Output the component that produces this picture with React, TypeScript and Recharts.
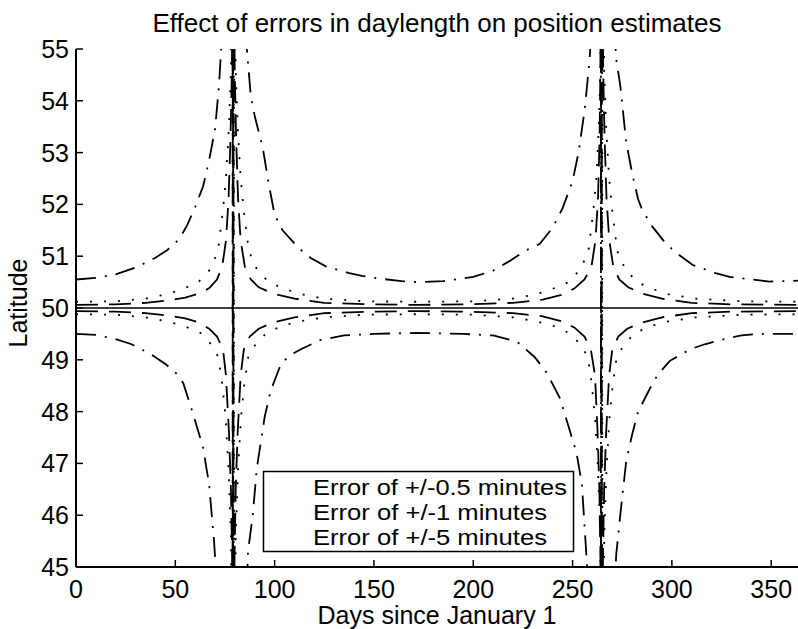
import React from 'react';
import { LineChart, Line, XAxis, YAxis, ReferenceLine } from 'recharts';

// ---- tick labels / categories ----
const X_TICKS = [0, 50, 100, 150, 200, 250, 300, 350];
const Y_TICKS = [45, 46, 47, 48, 49, 50, 51, 52, 53, 54, 55];
const TRUE_LATITUDE = 50;
const LEGEND_LABELS = ['Error of +/-0.5 minutes', 'Error of +/-1 minutes', 'Error of +/-5 minutes'];
const TITLE = 'Effect of errors in daylength on position estimates';
const X_LABEL = 'Days since January 1';
const Y_LABEL = 'Latitude';

type Pt = [number, number]; // [day, latitude]

// ---- +/-0.5 minutes (dashed) ----
const halfUpperSpring: Pt[] = [[0,50.06],[20,50.07],[35,50.1],[45,50.14],[55,50.2],[62,50.28],[67,50.38],[71,50.55],[73.6,50.8],[75.5,51.3],[76.8,52.1],[77.8,53.3],[78.5,54.6],[79.0,58]];
const halfLowerSpring: Pt[] = [[0,49.94],[20,49.93],[35,49.9],[45,49.86],[55,49.8],[62,49.72],[67,49.6],[71,49.45],[74,49.2],[75.5,48.7],[77,47.6],[78,46.5],[78.6,45.2],[79.0,42]];
const halfUpperSummer: Pt[] = [[79.4,58],[79.9,54.6],[80.6,53.3],[81.6,52.1],[82.9,51.3],[85,50.8],[88,50.55],[92,50.4],[99,50.28],[110,50.18],[125,50.1],[150,50.07],[172,50.06],[195,50.07],[220,50.1],[235,50.16],[245,50.26],[251,50.38],[256,50.55],[259.5,50.8],[261.5,51.3],[262.8,52.1],[263.6,53.3],[264.0,54.6],[264.4,58]];
const halfLowerSummer: Pt[] = [[79.4,42],[79.8,45.2],[80.4,46.5],[81.4,47.6],[82.9,48.7],[84.5,49.2],[87.5,49.45],[92,49.6],[99,49.72],[110,49.82],[125,49.9],[150,49.93],[172,49.94],[195,49.93],[220,49.9],[235,49.84],[245,49.74],[251,49.62],[256,49.45],[259.2,49.2],[261.3,48.7],[262.6,47.6],[263.5,46.5],[264.0,45.2],[264.4,42]];
const halfUpperAutumn: Pt[] = [[264.8,58],[265.4,54.6],[266.1,53.3],[267.1,52.1],[268.5,51.3],[270.5,50.8],[273.5,50.55],[278,50.4],[285,50.28],[295,50.18],[310,50.1],[330,50.07],[365,50.06]];
const halfLowerAutumn: Pt[] = [[264.8,42],[265.3,45.2],[265.9,46.5],[266.9,47.6],[268.4,48.7],[270,49.2],[273,49.45],[277.5,49.6],[285,49.72],[295,49.82],[310,49.9],[330,49.93],[365,49.94]];

// ---- +/-1 minutes (dotted) ----
const oneUpperSpring: Pt[] = [[0,50.12],[20,50.13],[35,50.18],[46,50.27],[54,50.37],[61.6,50.5],[67.7,50.75],[71.5,51.1],[74,51.9],[75.5,52.5],[77,53.5],[78,54.6],[79.3,60]];
const oneLowerSpring: Pt[] = [[0,49.88],[20,49.87],[35,49.82],[46,49.74],[54,49.66],[62.6,49.52],[68,49.3],[71.7,49.05],[73.6,48.55],[75.3,47.9],[76.8,46.9],[78,45.6],[79.3,40]];
const oneUpperSummer: Pt[] = [[79.7,60],[80.4,54.6],[81.4,53.5],[82.9,52.5],[84.4,51.9],[87,51.1],[91,50.75],[97,50.5],[105,50.37],[113,50.27],[125,50.18],[145,50.13],[172,50.12],[200,50.13],[220,50.18],[232,50.27],[240,50.37],[248,50.5],[254,50.75],[258,51.1],[260.5,51.9],[262,52.5],[263.2,53.5],[264,54.6],[264.7,60]];
const oneLowerSummer: Pt[] = [[79.7,40],[80.4,45.6],[81.6,46.9],[83.1,47.9],[84.8,48.55],[86.7,49.05],[90.4,49.3],[96,49.52],[104,49.66],[112,49.74],[125,49.82],[145,49.87],[172,49.88],[200,49.87],[220,49.82],[232,49.74],[240,49.66],[248,49.52],[254,49.3],[257.7,49.05],[259.6,48.55],[261.3,47.9],[262.8,46.9],[264,45.6],[264.7,40]];
const oneUpperAutumn: Pt[] = [[265.1,60],[265.9,54.6],[266.9,53.5],[268.4,52.5],[269.9,51.9],[272.5,51.1],[276.5,50.75],[282.5,50.5],[290,50.37],[298,50.27],[312,50.18],[335,50.13],[365,50.12]];
const oneLowerAutumn: Pt[] = [[265.1,40],[265.9,45.6],[267.1,46.9],[268.6,47.9],[270.3,48.55],[272.2,49.05],[276,49.3],[281.5,49.52],[290,49.66],[298,49.74],[312,49.82],[335,49.87],[365,49.88]];

// ---- +/-5 minutes (dash-dot) ----
const fiveUpperSpring: Pt[] = [[0,50.55],[10,50.58],[20,50.65],[30,50.78],[40,50.97],[46,51.12],[52,51.33],[56,51.6],[60,51.95],[64,52.35],[67,52.85],[70,53.45],[72,54.3],[74,55.6],[76,58],[78.7,70]];
const fiveLowerSpring: Pt[] = [[0,49.5],[10,49.48],[20,49.4],[28,49.3],[38,49.1],[45,48.92],[51,48.72],[54,48.55],[59,47.95],[64,47.3],[67,46.6],[69.5,45.5],[71,44.6],[74,42],[78.7,30]];
const fiveUpperSummer: Pt[] = [[79.1,70],[83,58],[86,55],[88,54.1],[90,53.7],[94,53.1],[97,52.4],[100,51.8],[104,51.5],[112,51.16],[118,50.97],[126,50.8],[137,50.68],[144,50.62],[152,50.57],[164,50.52],[172,50.5],[185,50.52],[200,50.6],[210,50.72],[218,50.9],[226,51.1],[233.5,51.24],[240,51.55],[245,51.93],[250,52.45],[253,53.0],[256,53.8],[258.6,54.8],[261,56.5],[264.1,70]];
const fiveLowerSummer: Pt[] = [[79.1,30],[83,41],[86.6,45.3],[89,46.0],[91,46.9],[95,47.9],[98,48.4],[103,48.9],[107,49.07],[113,49.2],[123,49.38],[135,49.47],[150,49.5],[172,49.52],[195,49.5],[210,49.47],[222,49.35],[231,49.05],[237,48.75],[243.6,48.26],[247.6,47.76],[252,47.2],[254.7,46.6],[256,45.8],[258,44.6],[261,42],[264.1,30]];
const fiveUpperAutumn: Pt[] = [[264.5,70],[268,59],[270,56],[272,54.8],[274,54.3],[275.5,53.75],[277,53.2],[280,52.6],[283,52.1],[285,51.9],[290,51.58],[297,51.24],[303,51.04],[310.5,50.83],[321.5,50.68],[329,50.6],[338,50.56],[349,50.51],[358,50.52],[365,50.53]];
const fiveLowerAutumn: Pt[] = [[264.5,30],[268,40],[271,44.6],[272,45.25],[274,46.0],[277,47.04],[280,47.56],[283,48.0],[289,48.45],[293,48.72],[299,48.98],[309,49.2],[316.5,49.3],[324,49.38],[335,49.47],[344,49.5],[353,49.5],[365,49.5]];

const toRows = (...parts: Pt[][]) => parts.flat().map(([day, lat]) => ({ day, lat }));

const SERIES = [
  { key: 'halfPlus', data: toRows(halfLowerSpring, halfUpperSummer, halfLowerAutumn), dash: '22 11' },
  { key: 'halfMinus', data: toRows(halfUpperSpring, halfLowerSummer, halfUpperAutumn), dash: '22 11' },
  { key: 'onePlus', data: toRows(oneLowerSpring, oneUpperSummer, oneLowerAutumn), dash: '2 12' },
  { key: 'oneMinus', data: toRows(oneUpperSpring, oneLowerSummer, oneUpperAutumn), dash: '2 12' },
  { key: 'fivePlus', data: toRows(fiveLowerSpring, fiveUpperSummer, fiveLowerAutumn), dash: '20 9 2 9' },
  { key: 'fiveMinus', data: toRows(fiveUpperSpring, fiveLowerSummer, fiveUpperAutumn), dash: '20 9 2 9' },
];

const FONT = '"Liberation Sans", Arial, Helvetica, sans-serif';
const LEGEND_WIDTHS = [254, 234, 234];

const BottomTick = (p: any) => (
  <g>
    <line x1={p.x} x2={p.x} y1={p.y} y2={p.y - 7} stroke="#000" strokeWidth={1.5} />
    <text x={p.x} y={p.y + 31} textAnchor="middle" fontSize={25} fontFamily={FONT} fill="#000">{p.payload.value}</text>
  </g>
);
const TopTick = (p: any) => (
  <line x1={p.x} x2={p.x} y1={p.y} y2={p.y + 7} stroke="#000" strokeWidth={1.5} />
);
const LeftTick = (p: any) => (
  <g>
    <line x1={p.x} x2={p.x + 7} y1={p.y} y2={p.y} stroke="#000" strokeWidth={1.5} />
    <text x={p.x - 7} y={p.y + 9} textAnchor="end" fontSize={25} fontFamily={FONT} fill="#000">{p.payload.value}</text>
  </g>
);
const RightTick = (p: any) => (
  <line x1={p.x} x2={p.x - 7} y1={p.y} y2={p.y} stroke="#000" strokeWidth={1.5} />
);

export default function App() {
  return (
    <div style={{ position: 'absolute', left: 0, top: 0, width: 798, height: 629, overflow: 'hidden', background: '#fff' }}>
      <LineChart width={802} height={629} margin={{ top: 49, right: 1, bottom: 0, left: 0 }}>
        <XAxis dataKey="day" type="number" domain={[0, 365]} ticks={X_TICKS} interval={0} allowDataOverflow
          height={62} tickSize={0} tickMargin={0} tickLine={false} axisLine={{ stroke: '#000', strokeWidth: 2 }} tick={<BottomTick />} />
        <XAxis xAxisId="top" orientation="top" dataKey="day" type="number" domain={[0, 365]} ticks={X_TICKS} interval={0} allowDataOverflow
          height={0} tickSize={0} tickMargin={0} tickLine={false} axisLine={{ stroke: '#000', strokeWidth: 2 }} tick={<TopTick />} />
        <YAxis type="number" domain={[45, 55]} ticks={Y_TICKS} interval={0} allowDataOverflow width={76}
          tickSize={0} tickMargin={0} tickLine={false} axisLine={{ stroke: '#000', strokeWidth: 2 }} tick={<LeftTick />} />
        <YAxis yAxisId="right" orientation="right" type="number" domain={[45, 55]} ticks={Y_TICKS} interval={0} allowDataOverflow width={0}
          tickSize={0} tickMargin={0} tickLine={false} axisLine={{ stroke: '#000', strokeWidth: 2 }} tick={<RightTick />} />
        <ReferenceLine y={TRUE_LATITUDE} stroke="#000" strokeWidth={1.6} />
        {SERIES.map((s) => (
          <Line key={s.key} data={s.data} dataKey="lat" type="linear" stroke="#000" strokeWidth={1.8}
            strokeDasharray={s.dash} dot={false} activeDot={false} isAnimationActive={false} />
        ))}
      </LineChart>
      <svg width={798} height={629} style={{ position: 'absolute', left: 0, top: 0, pointerEvents: 'none' }}>
        <text x={437} y={32} textAnchor="middle" fontSize={26} fontFamily={FONT} fill="#000">{TITLE}</text>
        <text x={437} y={624} textAnchor="middle" fontSize={25} fontFamily={FONT} fill="#000">{X_LABEL}</text>
        <text x={27} y={303} textAnchor="middle" fontSize={25} fontFamily={FONT} fill="#000" transform="rotate(-90 27 303)">{Y_LABEL}</text>
        <rect x={263.5} y={471.5} width={310} height={80} fill="#fff" stroke="#000" strokeWidth={1.5} />
        {LEGEND_LABELS.map((t, i) => (
          <text key={t} x={313} y={495 + i * 25} fontSize={22} fontFamily={FONT} fill="#000"
            textLength={LEGEND_WIDTHS[i]} lengthAdjust="spacingAndGlyphs">{t}</text>
        ))}
      </svg>
    </div>
  );
}
